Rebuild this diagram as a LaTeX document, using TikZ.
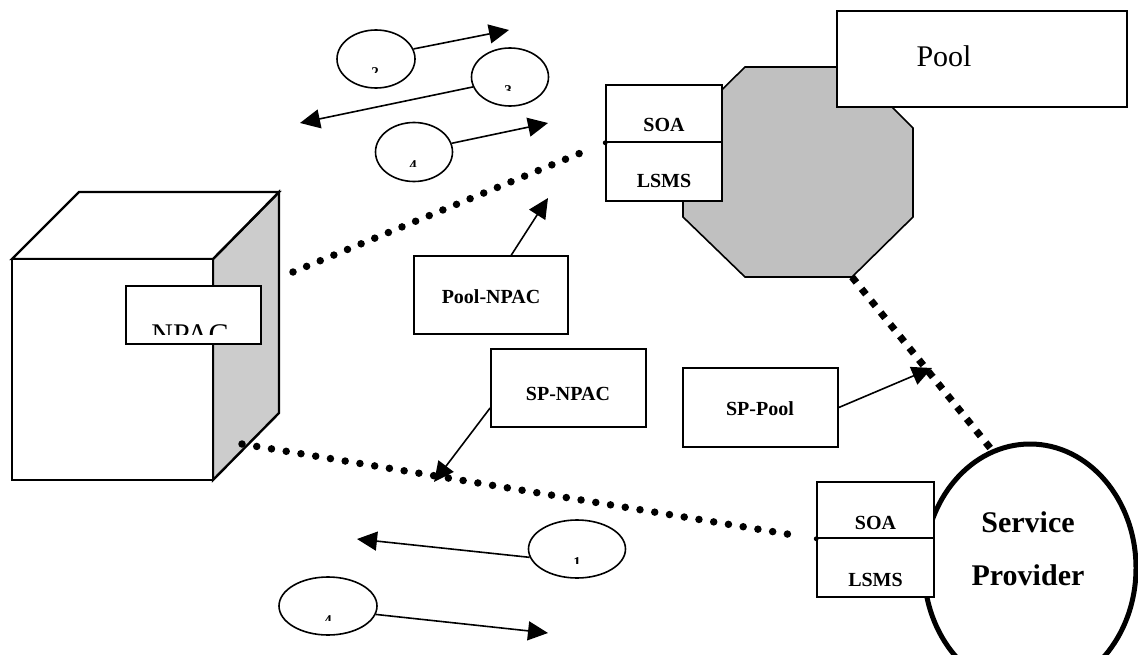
\documentclass[tikz,border=0pt]{standalone}
\usepackage{fontspec}
\setmainfont{Liberation Serif}
\usetikzlibrary{arrows.meta,shapes.geometric,calc}

\definecolor{sidegray}{RGB}{204,204,204}
\definecolor{octgray}{RGB}{192,192,192}

\begin{document}
\begin{tikzpicture}[x=1pt,y=-1pt,
  box/.style={draw, line width=1.6pt, fill=white, inner sep=0pt, rectangle},
  bubble/.style={draw, ellipse, line width=1.6pt, fill=white, inner sep=0pt},
  flow/.style={line width=1.6pt, -{Triangle[length=20pt,width=19pt]}},
  dotline/.style={line width=7.5pt, line cap=round, dash pattern=on 0pt off #1},
  diamondline/.style={line width=7pt, line cap=butt, dash pattern=on 7pt off 8.2pt},
  lbl/.style={font=\fontsize{20}{24}\selectfont\bfseries, inner sep=0pt, anchor=base},
  big/.style={font=\fontsize{30}{36}\selectfont, inner sep=0pt, anchor=base},
  bigbold/.style={font=\fontsize{30}{36}\selectfont\bfseries, inner sep=0pt, anchor=base},
  digit/.style={font=\fontsize{15}{17}\selectfont\bfseries, inner sep=0pt, anchor=north},
  wire/.style={line width=2.4pt, line join=miter}
]
\useasboundingbox (0,0) rectangle (1138,655);

% ---------------- NPAC cube ----------------
\filldraw[wire, fill=sidegray] (213,259) -- (279,192) -- (279,413) -- (213,480) -- cycle;
\filldraw[wire, fill=white] (12,259) -- (79,192) -- (279,192) -- (213,259) -- cycle;
\filldraw[wire, fill=white] (12,259) rectangle (213,480);

% label plate on the cube; its text frame cuts the lower part of the letters
\node[box, minimum width=135pt, minimum height=58pt] (npac) at (193.5,315) {};
\begin{scope}
  \clip (npac.north west) rectangle ($(npac.south east)+(0,-10)$);
  \node[big] (npactext) at (190,344) {NPAC};
\end{scope}

% ---------------- Pool ----------------
\filldraw[fill=octgray, line width=1.6pt]
  (745,67) -- (852,67) -- (913,128) -- (913,217) -- (852,277)
  coordinate (octbr) -- (745,277) -- (683,217) -- (683,128) -- cycle;
\node[box, minimum width=290pt, minimum height=96pt] (pool) at (982,59) {};
\node[big] (pooltext) at (944,67) {Pool};

\node[box, minimum width=116pt, minimum height=57pt] (soa1) at (664,113.5) {};
\node[box, minimum width=116pt, minimum height=59pt] (lsms1) at (664,171.5) {};
\node[lbl] (soa1t) at (664,132) {SOA};
\node[lbl] (lsms1t) at (664,188) {LSMS};

% ---------------- Service Provider ----------------
\node[draw, ellipse, line width=5pt, fill=white, minimum width=212pt, minimum height=248pt] (sp) at (1030,568) {};
\node[bigbold] (spt1) at (1028,532) {Service};
\node[bigbold] (spt2) at (1028,585) {Provider};

\node[box, minimum width=117pt, minimum height=56pt] (soa2) at (875.5,510) {};
\node[box, minimum width=117pt, minimum height=59pt] (lsms2) at (875.5,567.5) {};
\node[lbl] (soa2t) at (875.5,529) {SOA};
\node[lbl] (lsms2t) at (875.5,586) {LSMS};

% ---------------- dotted links ----------------
\coordinate (npacup) at (293,272);
\coordinate (npaclow) at (242,444);
\draw[dotline=14.745pt, shorten >=14.5pt] (npacup) -- (soa1.south west);
\fill (soa1.south west) circle (2.4pt);
\draw[dotline=14.94pt, shorten >=15pt] (npaclow) -- (soa2.south west);
\fill (soa2.south west) circle (2.4pt);
\draw[diamondline] (octbr) -- (sp.108);

% ---------------- message bubbles ----------------
\node[bubble, minimum width=78pt, minimum height=58pt] (m1) at (376,59) {};
\node[bubble, minimum width=77pt, minimum height=58pt] (m2) at (510,77) {};
\node[bubble, minimum width=77pt, minimum height=59pt] (m3) at (414,152) {};
\node[bubble, minimum width=97pt, minimum height=58pt] (m4) at (577,549) {};
\node[bubble, minimum width=98pt, minimum height=58pt] (m5) at (328,606) {};

\begin{scope}\clip (365,66) rectangle (386,73);
  \node[digit] (d1) at (375,67) {2};\end{scope}
\begin{scope}\clip (498,84) rectangle (519,91);
  \node[digit] (d2) at (508,85) {3};\end{scope}
\begin{scope}\clip (403,159) rectangle (424,167);
  \node[digit] (d3) at (413,160) {4};\end{scope}
\begin{scope}\clip (567,556) rectangle (588,563);
  \node[digit] (d4) at (577,557) {1};\end{scope}
\begin{scope}\clip (318,614) rectangle (339,620);
  \node[digit] (d5) at (328,615) {4};\end{scope}

\coordinate (t1) at (509,30);
\coordinate (t2) at (300,123);
\coordinate (t3) at (548,123);
\coordinate (t4) at (357,539);
\coordinate (t5) at (548,633);
\draw[flow] (m1.15) -- (t1);
\draw[flow] (m2.195) -- (t2);
\draw[flow] (m3.13) -- (t3);
\draw[flow] (m4.190) -- (t4);
\draw[flow] (m5.350) -- (t5);

% ---------------- interface boxes ----------------
\node[box, minimum width=154pt, minimum height=78pt] (pn) at (491,295) {};
\node[lbl] (pnt) at (491,303) {Pool-NPAC};
\node[box, minimum width=155pt, minimum height=78pt] (spn) at (568.5,388) {};
\node[lbl] (spnt) at (568,400) {SP-NPAC};
\node[box, minimum width=155pt, minimum height=79pt] (spp) at (760.5,407.5) {};
\node[lbl] (sppt) at (760,415) {SP-Pool};

\coordinate (t6) at (548,198);
\coordinate (t7) at (434,482);
\coordinate (t8) at (932,368);
\draw[flow] ($(pn.north west)!0.63!(pn.north east)$) -- (t6);
\draw[flow] ($(spn.south west)!0.25!(spn.north west)$) -- (t7);
\draw[flow] (spp.east) -- (t8);

\end{tikzpicture}
\end{document}
